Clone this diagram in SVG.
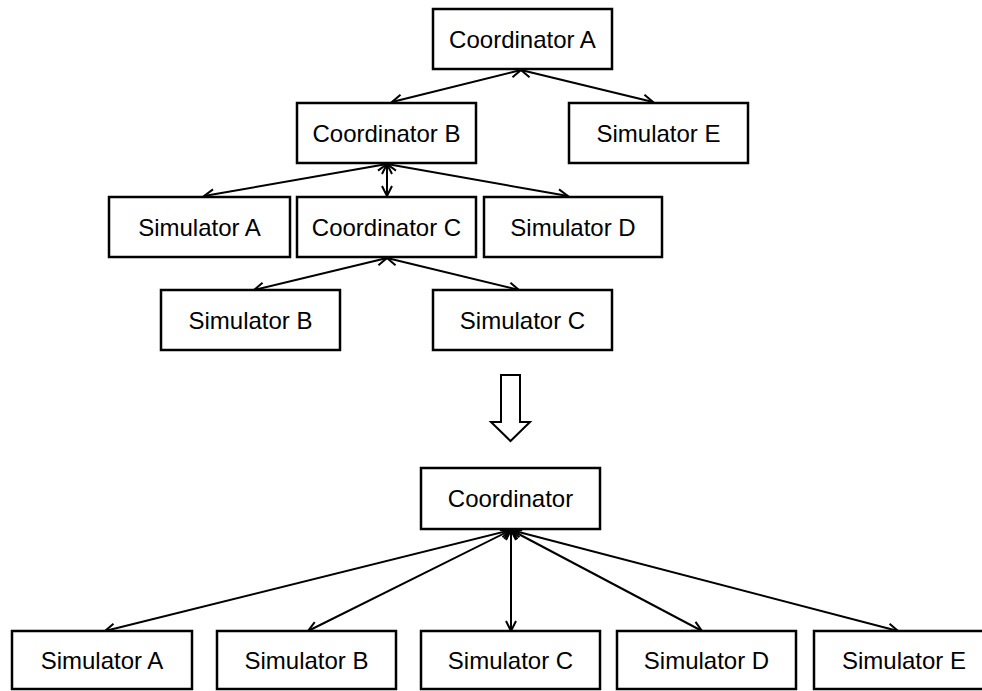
<svg xmlns="http://www.w3.org/2000/svg" width="982" height="691" viewBox="0 0 982 691">
<style>
.box{fill:#fff;stroke:#000;stroke-width:2.5}
.lbl{font-family:"Liberation Sans",Arial,sans-serif;font-size:24px;fill:#000;text-anchor:middle}
.con{stroke:#000;stroke-width:2;fill:none;marker-start:url(#ah);marker-end:url(#ah)}
</style>
<defs>
<marker id="ah" viewBox="-12 -7 14 14" refX="0" refY="0" markerWidth="14" markerHeight="14" markerUnits="userSpaceOnUse" orient="auto-start-reverse">
<path d="M-10,-5 L0,0 L-10,5" fill="none" stroke="#000" stroke-width="2"/>
</marker>
</defs>
<rect width="982" height="691" fill="#fff"/>
<g id="connectors">
<line class="con" x1="521" y1="70" x2="392" y2="102"/>
<line class="con" x1="521" y1="70" x2="653" y2="102"/>
<line class="con" x1="387" y1="164" x2="204" y2="196"/>
<line class="con" x1="387" y1="164" x2="387" y2="196"/>
<line class="con" x1="387" y1="164" x2="568" y2="196"/>
<line class="con" x1="387" y1="258" x2="254" y2="290"/>
<line class="con" x1="387" y1="258" x2="519" y2="290"/>
<line class="con" x1="511" y1="530" x2="105" y2="631"/>
<line class="con" x1="511" y1="530" x2="308" y2="631"/>
<line class="con" x1="511" y1="530" x2="511" y2="631"/>
<line class="con" x1="511" y1="530" x2="702" y2="631"/>
<line class="con" x1="511" y1="530" x2="898" y2="631"/>
</g>
<g id="transform-arrow">
<polygon points="501,375 520,375 520,422 530,422 510.5,441 491,422 501,422" fill="#fff" stroke="#000" stroke-width="2"/>
</g>
<g id="coordinator-a"><rect class="box" x="433" y="9" width="179" height="60"/><text class="lbl" x="522.5" y="48">Coordinator A</text></g>
<g id="coordinator-b"><rect class="box" x="297" y="103" width="179" height="60"/><text class="lbl" x="386.5" y="142">Coordinator B</text></g>
<g id="simulator-e-top"><rect class="box" x="569" y="103" width="179" height="60"/><text class="lbl" x="658.5" y="142">Simulator E</text></g>
<g id="simulator-a-top"><rect class="box" x="109" y="197" width="181" height="60"/><text class="lbl" x="199.5" y="236">Simulator A</text></g>
<g id="coordinator-c"><rect class="box" x="297" y="197" width="179" height="60"/><text class="lbl" x="386.5" y="236">Coordinator C</text></g>
<g id="simulator-d-top"><rect class="box" x="484" y="197" width="178" height="60"/><text class="lbl" x="573" y="236">Simulator D</text></g>
<g id="simulator-b-top"><rect class="box" x="161" y="290" width="179" height="60"/><text class="lbl" x="250.5" y="329">Simulator B</text></g>
<g id="simulator-c-top"><rect class="box" x="433" y="290" width="179" height="60"/><text class="lbl" x="522.5" y="329">Simulator C</text></g>
<g id="coordinator"><rect class="box" x="421" y="468" width="179" height="61"/><text class="lbl" x="510.5" y="507">Coordinator</text></g>
<g id="simulator-a"><rect class="box" x="12" y="631" width="180" height="58"/><text class="lbl" x="102" y="669">Simulator A</text></g>
<g id="simulator-b"><rect class="box" x="217" y="631" width="179" height="58"/><text class="lbl" x="306.5" y="669">Simulator B</text></g>
<g id="simulator-c"><rect class="box" x="421" y="631" width="179" height="58"/><text class="lbl" x="510.5" y="669">Simulator C</text></g>
<g id="simulator-d"><rect class="box" x="617" y="631" width="179" height="58"/><text class="lbl" x="706.5" y="669">Simulator D</text></g>
<g id="simulator-e"><rect class="box" x="814" y="631" width="180" height="58"/><text class="lbl" x="904" y="669">Simulator E</text></g>
</svg>
